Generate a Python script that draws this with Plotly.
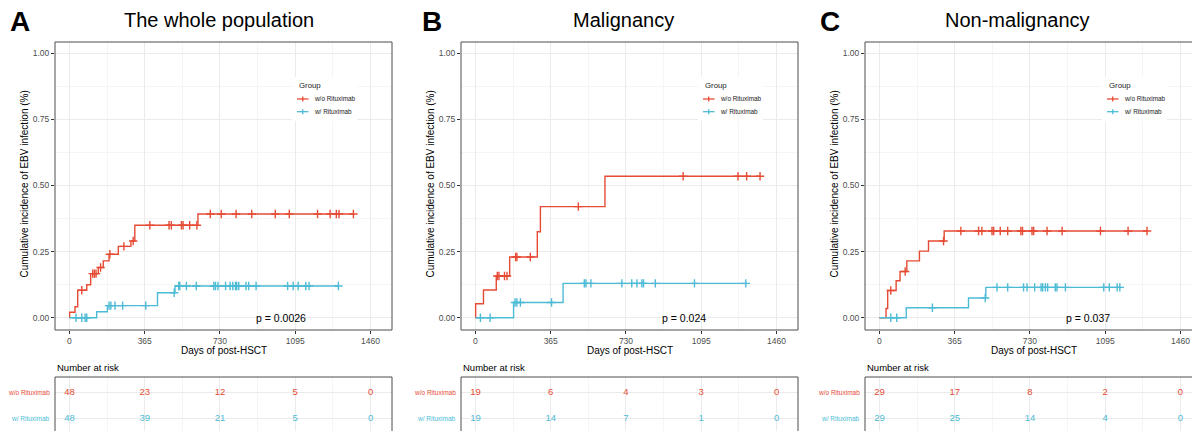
import plotly.graph_objects as go

W, H = 1192, 431
RED = '#E64B35'
BLUE = '#4DBBD5'
FONT = 'Liberation Sans, Arial, sans-serif'

# ---------------- data ----------------
titles = ['The whole population', 'Malignancy', 'Non-malignancy']
letters = ['A', 'B', 'C']
pvals = ['p = 0.0026', 'p = 0.024', 'p = 0.037']
groups = ['w/o Rituximab', 'w/ Rituximab']

# Panel A: the whole population
a_wo_times = [0, 1, 27, 40, 84, 103, 140, 164, 192, 237, 298, 317, 623, 1377]
a_wo_cif = [0, 0.021, 0.042, 0.104, 0.125, 0.167, 0.19, 0.215, 0.24, 0.27, 0.29, 0.35, 0.392, 0.392]
a_wo_cens = [60, 113, 121, 129, 151, 196, 264, 309, 390, 483, 494, 543, 551, 583, 618,
             683, 736, 808, 884, 998, 1066, 1203, 1264, 1294, 1307, 1377]
a_w_times = [0, 132, 184, 427, 512, 1304]
a_w_cif = [0, 0.023, 0.046, 0.095, 0.12, 0.12]
a_w_cens = [32, 60, 76, 84, 192, 201, 221, 258, 370, 508, 530, 535, 567, 615, 700, 708,
            720, 757, 779, 792, 805, 811, 821, 856, 869, 905, 1058, 1085, 1109, 1146, 1162, 1304]

# Panel B: malignancy
b_wo_times = [0, 1, 39, 101, 166, 300, 315, 628, 1380]
b_wo_cif = [0, 0.053, 0.105, 0.158, 0.23, 0.325, 0.42, 0.535, 0.535]
b_wo_cens = [106, 114, 141, 153, 195, 201, 266, 499, 1007, 1273, 1315, 1380]
b_w_times = [0, 185, 425, 1311]
b_w_cif = [0, 0.058, 0.13, 0.13]
b_w_cens = [24, 71, 192, 201, 218, 369, 528, 536, 560, 710, 758, 783, 807, 815, 872, 1062, 1311]

# Panel C: non-malignancy
c_wo_times = [0, 32, 40, 81, 100, 133, 194, 238, 314, 1298]
c_wo_cif = [0, 0.035, 0.103, 0.14, 0.175, 0.215, 0.252, 0.29, 0.328, 0.328]
c_wo_cens = [55, 125, 311, 395, 481, 497, 546, 554, 586, 622, 686, 694, 740, 748, 813, 886,
             1072, 1206, 1298]
c_w_times = [0, 130, 432, 516, 1166]
c_w_cif = [0, 0.038, 0.075, 0.115, 0.115]
c_w_cens = [55, 84, 257, 513, 570, 622, 699, 716, 753, 784, 792, 805, 816, 853, 861, 902,
            1088, 1115, 1153, 1166]

# Number at risk
risk_times = [0, 365, 730, 1095, 1460]
a_wo_risk = [48, 23, 12, 5, 0]
a_w_risk = [48, 39, 21, 5, 0]
b_wo_risk = [19, 6, 4, 3, 0]
b_w_risk = [19, 14, 7, 1, 0]
c_wo_risk = [29, 17, 8, 2, 0]
c_w_risk = [29, 25, 14, 4, 0]

x_ticks = [0, 365, 730, 1095, 1460]
x_minor = [182.5, 547.5, 912.5, 1277.5]
y_ticks = [0, 0.25, 0.5, 0.75, 1.0]
y_minor = [0.125, 0.375, 0.625, 0.875]

panels = [
    dict(wo=(a_wo_times, a_wo_cif, a_wo_cens), w=(a_w_times, a_w_cif, a_w_cens),
         risk=(a_wo_risk, a_w_risk)),
    dict(wo=(b_wo_times, b_wo_cif, b_wo_cens), w=(b_w_times, b_w_cif, b_w_cens),
         risk=(b_wo_risk, b_w_risk)),
    dict(wo=(c_wo_times, c_wo_cif, c_wo_cens), w=(c_w_times, c_w_cif, c_w_cens),
         risk=(c_wo_risk, c_w_risk)),
]

# ---------------- layout geometry (pixels) ----------------
plot_left = [55, 461, 865]
plot_right = [392, 798, 1192]
full_right = [392, 798, 1202]
title_x = [218.5, 623, 1017.5]
letter_x = [20, 432, 830]
x_ranges = [[-70, 1564], [-70, 1564], [-70, 1516]]
PLOT_TOP, PLOT_BOT = 42, 330
TAB_TOP = 377


def px(x):
    return x / W


def py(y):
    return 1 - y / H


def step_value(times, vals, t):
    v = vals[0]
    for ti, vi in zip(times, vals):
        if ti <= t:
            v = vi
    return v


fig = go.Figure()
annotations = []
shapes = []

grid = '#EBEBEB'
minor_grid = '#F5F5F5'
tickfont = dict(family=FONT, size=8.5, color='#4D4D4D')

for i, p in enumerate(panels):
    xa = 'x' if i == 0 else f'x{i + 1}'
    ya = 'y' if i == 0 else f'y{i + 1}'
    xt = f'x{i + 4}'
    yt = f'y{i + 4}'
    for key, col in (('wo', RED), ('w', BLUE)):
        times, vals, cens = p[key]
        fig.add_trace(go.Scatter(x=times, y=vals, mode='lines', line=dict(color=col, width=1.4, shape='hv'),
                                 xaxis=xa, yaxis=ya, hoverinfo='skip'))
        fig.add_trace(go.Scatter(x=cens, y=[step_value(times, vals, t) for t in cens], mode='markers',
                                 marker=dict(symbol='cross-thin', size=6, line=dict(color=col, width=1.4)),
                                 xaxis=xa, yaxis=ya, hoverinfo='skip'))
    for row, (risk, col) in zip((2, 1), zip(p['risk'], (RED, BLUE))):
        fig.add_trace(go.Scatter(x=risk_times, y=[row] * len(risk_times), mode='text',
                                 text=[str(v) for v in risk],
                                 textfont=dict(family=FONT, size=9.5, color=col),
                                 xaxis=xt, yaxis=yt, hoverinfo='skip'))

    xdom = [px(plot_left[i]), px(plot_right[i])]
    common_x = dict(domain=xdom, range=x_ranges[i], showgrid=True, gridcolor=grid, gridwidth=1,
                    zeroline=False, showline=False,
                    tickmode='array', tickvals=x_ticks,
                    minor=dict(tickvals=x_minor, showgrid=True, gridcolor=minor_grid, gridwidth=0.6))
    fig.update_layout(**{
        ('xaxis' if i == 0 else f'xaxis{i + 1}'): dict(
            common_x, anchor=ya, ticks='outside', ticklen=3, tickcolor='#333333', tickwidth=0.8,
            ticktext=[str(v) for v in x_ticks], tickfont=tickfont),
        ('yaxis' if i == 0 else f'yaxis{i + 1}'): dict(
            domain=[py(PLOT_BOT), py(PLOT_TOP)], range=[-0.046, 1.042], anchor=xa,
            showgrid=True, gridcolor=grid, gridwidth=1, zeroline=False, showline=False,
            tickmode='array', tickvals=y_ticks, ticktext=[f'{v:.2f}' for v in y_ticks],
            ticks='outside', ticklen=3, tickcolor='#333333', tickwidth=0.8, tickfont=tickfont,
            minor=dict(tickvals=y_minor, showgrid=True, gridcolor=minor_grid, gridwidth=0.6)),
        f'xaxis{i + 4}': dict(common_x, anchor=yt, showticklabels=False, ticks=''),
        f'yaxis{i + 4}': dict(domain=[0, py(TAB_TOP)], range=[0.55, 2.573], anchor=xt,
                              tickmode='array', tickvals=[1, 2], showticklabels=False, ticks='',
                              showgrid=True, gridcolor=grid, zeroline=False, showline=False),
    })

    # borders
    bc = dict(color='#4D4D4D', width=1)
    L, R = px(plot_left[i]), px(plot_right[i])
    T, B = py(PLOT_TOP), py(PLOT_BOT)
    segs = [(L, B, L, T), (L, T, R, T), (L, B, R, B)]
    if i < 2:
        segs.append((R, B, R, T))
    TT = py(TAB_TOP)
    segs += [(L, 0, L, TT), (L, TT, R, TT)]
    if i < 2:
        segs.append((R, 0, R, TT))
    for x0, y0, x1, y1 in segs:
        shapes.append(dict(type='line', xref='paper', yref='paper', x0=x0, y0=y0, x1=x1, y1=y1,
                           line=bc, layer='above'))

    # legend box
    lx = plot_left[i]
    shapes.append(dict(type='rect', xref='paper', yref='paper', x0=px(lx + 237), x1=px(lx + 302),
                       y0=py(121), y1=py(77), fillcolor='white', line=dict(width=0), layer='above'))
    annotations.append(dict(text='Group', xref='paper', yref='paper', x=px(lx + 242), y=py(85),
                            xanchor='left', yanchor='middle', showarrow=False,
                            font=dict(family=FONT, size=7.8, color='#1A1A1A')))
    for gname, col, yy in ((groups[0], RED, 99), (groups[1], BLUE, 111.7)):
        shapes.append(dict(type='line', xref='paper', yref='paper', x0=px(lx + 242), x1=px(lx + 253.5),
                           y0=py(yy), y1=py(yy), line=dict(color=col, width=1.3), layer='above'))
        shapes.append(dict(type='line', xref='paper', yref='paper', x0=px(lx + 247.75), x1=px(lx + 247.75),
                           y0=py(yy - 2.5), y1=py(yy + 2.5), line=dict(color=col, width=1.3), layer='above'))
        annotations.append(dict(text=gname, xref='paper', yref='paper', x=px(lx + 257), y=py(yy),
                                xanchor='left', yanchor='middle', showarrow=False,
                                font=dict(family=FONT, size=6.4, color='#1A1A1A')))

    # texts
    annotations.append(dict(text=f'<b>{letters[i]}</b>', xref='paper', yref='paper', x=px(letter_x[i]),
                            y=py(22), xanchor='center', yanchor='middle', showarrow=False,
                            font=dict(family=FONT, size=28, color='black')))
    annotations.append(dict(text=titles[i], xref='paper', yref='paper', x=px(title_x[i]), y=py(20),
                            xanchor='center', yanchor='middle', showarrow=False,
                            font=dict(family=FONT, size=20, color='black')))
    annotations.append(dict(text='Cumulative incidence of EBV infection (%)', xref='paper', yref='paper',
                            x=px(plot_left[i] - 31.5), y=py(184), textangle=-90, xanchor='center',
                            yanchor='middle', showarrow=False, font=dict(family=FONT, size=10, color='black')))
    annotations.append(dict(text='Days of post-HSCT', xref='paper', yref='paper',
                            x=px((plot_left[i] + full_right[i]) / 2), y=py(350), xanchor='center',
                            yanchor='middle', showarrow=False, font=dict(family=FONT, size=10, color='black')))
    annotations.append(dict(text='Number at risk', xref='paper', yref='paper', x=px(plot_left[i]),
                            y=py(367), xanchor='left', yanchor='middle', showarrow=False,
                            font=dict(family=FONT, size=9.5, color='black')))
    annotations.append(dict(text=pvals[i], xref=xa, yref=ya, x=895, y=0.0, xanchor='left', yanchor='middle',
                            showarrow=False, font=dict(family=FONT, size=10.5, color='black')))
    for gname, col, row in ((groups[0], RED, 2), (groups[1], BLUE, 1)):
        annotations.append(dict(text=gname, xref='paper', yref=yt, x=px(plot_left[i] - 3), y=row,
                                xanchor='right', yanchor='middle', showarrow=False,
                                font=dict(family=FONT, size=6.5, color=col)))

fig.update_layout(width=W, height=H, margin=dict(l=0, r=0, t=0, b=0, pad=0),
                  plot_bgcolor='white', paper_bgcolor='white', showlegend=False,
                  annotations=annotations, shapes=shapes, font=dict(family=FONT))

fig.write_html('out.html', config={'displayModeBar': False},
               post_script="document.body.style.margin='0';document.body.style.overflow='hidden';")
